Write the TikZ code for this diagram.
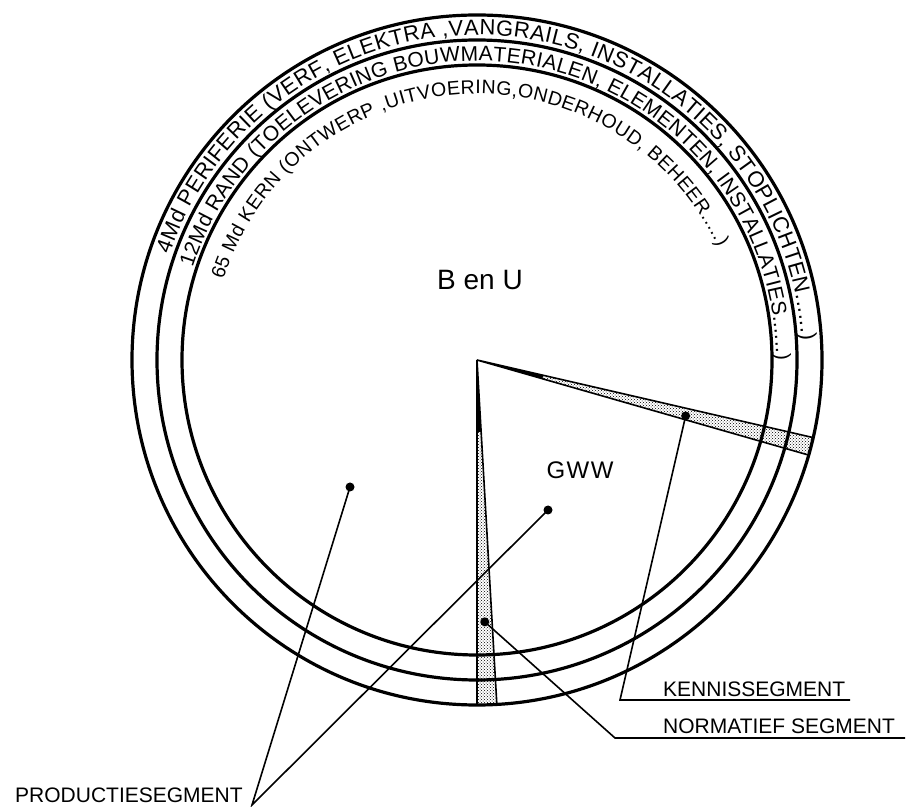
\documentclass[tikz,border=0pt]{standalone}
\usepackage{fontspec}
\setmainfont{Liberation Sans}
\usetikzlibrary{decorations.text,patterns}

\newcommand\ringfont[1]{\fontsize{#1}{#1}\selectfont}

\begin{document}
\begin{tikzpicture}[
  x=1pt,y=1pt,
  ring/.style={draw=black, line width=3.2pt},
  segm/.style={draw=black, line width=1.6pt, pattern=crosshatch dots, pattern color=black},
  core/.style={fill=black},
  lead/.style={draw=black, line width=1.6pt},
  blob/.style={circle, fill=black, inner sep=0pt, minimum size=9pt},
  lbl/.style={font=\ringfont{21}, anchor=base west, inner sep=0pt},
  bigtxt/.style={font=\ringfont{28}, inner sep=0pt}
]
\useasboundingbox (0,0) rectangle (907,806);

\coordinate (ctr) at (477,446);

% three rings
\draw[ring] (ctr) circle[radius=345];
\draw[ring] (ctr) circle[radius=320];
\draw[ring] (ctr) circle[radius=295];

% texts along the rings
\path[decorate, decoration={text along path, text align={fit to path},
    text={|\ringfont{22}|4Md PERIFERIE (VERF, ELEKTRA ,VANGRAILS, INSTALLATIES, STOPLICHTEN......)}}]
  ([shift={(161:325)}]ctr) arc[start angle=161, end angle=3.5, radius=325];
\path[decorate, decoration={text along path, text align={fit to path},
    text={|\ringfont{21}|12Md RAND (TOELEVERING BOUWMATERIALEN, ELEMENTEN, INSTALLATIES......)}}]
  ([shift={(162:299)}]ctr) arc[start angle=162, end angle=0, radius=299];
\path[decorate, decoration={text along path, text align={fit to path},
    text={|\ringfont{19.5}|65 Md KERN (ONTWERP ,UITVOERING,ONDERHOUD, BEHEER.....)}}]
  ([shift={(162.5:266)}]ctr) arc[start angle=162.5, end angle=25, radius=266];

% segments
\draw[segm] (ctr) -- ([shift={(-16:345)}]ctr) arc[start angle=-16, end angle=-13, radius=345] -- cycle;
\draw[segm] (ctr) -- ([shift={(-90:345)}]ctr) arc[start angle=-90, end angle=-86.7, radius=345] -- cycle;
\fill[core] (ctr) -- ([shift={(-16:68)}]ctr) -- ([shift={(-13:68)}]ctr) -- cycle;
\fill[core] (ctr) -- ([shift={(-90:72)}]ctr) -- ([shift={(-86.7:72)}]ctr) -- cycle;

\node[bigtxt] (benu) at (480,526) {B en U};
\node[font=\ringfont{24}, inner sep=0pt] (gww) at (580,336) {G\kern1.5pt W\kern1.5pt W};

% dots and leaders
\node[blob] (kdot) at ([shift={(-15:216)}]ctr) {};
\node[blob] (ndot) at ([shift={(-88.3:262)}]ctr) {};
\node[blob] (pdot) at (350,319) {};
\node[blob] (gdot) at (548,296) {};

\coordinate (kbend) at (620,106);
\coordinate (kend) at (850,106);
\coordinate (nbend) at (615,68);
\coordinate (nend) at (905,68);
\coordinate (pmeet) at (252,1);

\draw[lead] (kdot.center) -- (kbend) -- (kend);
\draw[lead] (ndot.center) -- (nbend) -- (nend);
\draw[lead] (pdot.center) -- (pmeet) -- (gdot.center);

\node[lbl] (kenn) at (663,109.5) {KENNISSEGMENT};
\node[lbl] (norm) at (663,72.5) {NORMATIEF SEGMENT};
\node[lbl] (prod) at (15,4) {PRODUCTIESEGMENT};
\end{tikzpicture}
\end{document}
